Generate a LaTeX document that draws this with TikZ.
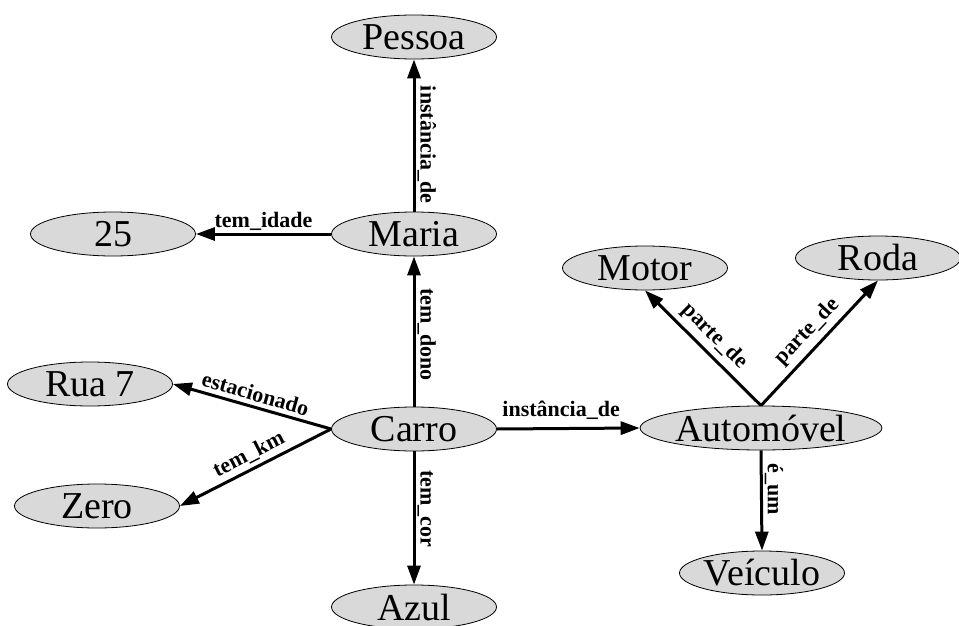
\documentclass[tikz,border=0pt]{standalone}
\usepackage{fontspec}
\setmainfont{Liberation Serif}
\usetikzlibrary{shapes.geometric,arrows.meta}
\begin{document}
\begin{tikzpicture}[x=1pt,y=-1pt,
  concept/.style={ellipse, draw=black, line width=0.8pt, fill=gray!30,
    minimum width=165pt, minimum height=44pt, inner sep=0pt,
    font=\fontsize{38}{42}\selectfont},
  rel/.style={line width=3pt, -{Triangle[length=19pt,width=13pt]}},
  lbl/.style={font=\bfseries\fontsize{22}{25}\selectfont, inner sep=2pt}
]
\useasboundingbox (0,0) rectangle (959,626);

% concepts
\node[concept] (pessoa)  at (414,37)  {Pessoa};
\node[concept] (maria)   at (414,234) {Maria};
\node[concept] (idade)   at (113,234) {25};
\node[concept] (motor)   at (645,268) {Motor};
\node[concept] (roda)    at (878,258) {Roda};
\node[concept] (rua)     at (90,384)  {Rua 7};
\node[concept] (carro)   at (414,429) {Carro};
\node[concept, minimum width=237pt] (auto) at (761,428) {Automóvel};
\node[concept] (zero)    at (97,506)  {Zero};
\node[concept] (azul)    at (414,607) {Azul};
\node[concept] (veiculo) at (762,573) {Veículo};

% relations
\draw[rel] (maria.north) -- node[lbl, rotate=-90, anchor=south, pos=0.44] {instância\_de} (pessoa.south);
\draw[rel] (maria.west) -- node[lbl, above, midway] {tem\_idade} (idade.east);
\draw[rel] (carro.north) -- node[lbl, rotate=-90, anchor=south, pos=0.48] {tem\_dono} (maria.south);
\draw[rel] (carro.south) -- node[lbl, rotate=-90, anchor=south, pos=0.43] {tem\_cor} (azul.north);
\draw[rel] (carro.west) -- node[lbl, sloped, above=2pt, midway] {estacionado} (rua.east);
\draw[rel] (carro.west) -- node[lbl, sloped, above=2pt, midway] {tem\_km} (zero.east);
\draw[rel] (carro.east) -- node[lbl, above=5pt, pos=0.45] {instância\_de} (auto.west);
\draw[rel] (auto.north) -- node[lbl, sloped, above=3pt, midway] {parte\_de} (motor.south);
\draw[rel] (auto.north) -- node[lbl, sloped, above=3pt, midway] {parte\_de} (roda.south);
\draw[rel] (auto.south) -- node[lbl, rotate=-90, anchor=south, pos=0.39] {é\_um} (veiculo.north);
\end{tikzpicture}
\end{document}
